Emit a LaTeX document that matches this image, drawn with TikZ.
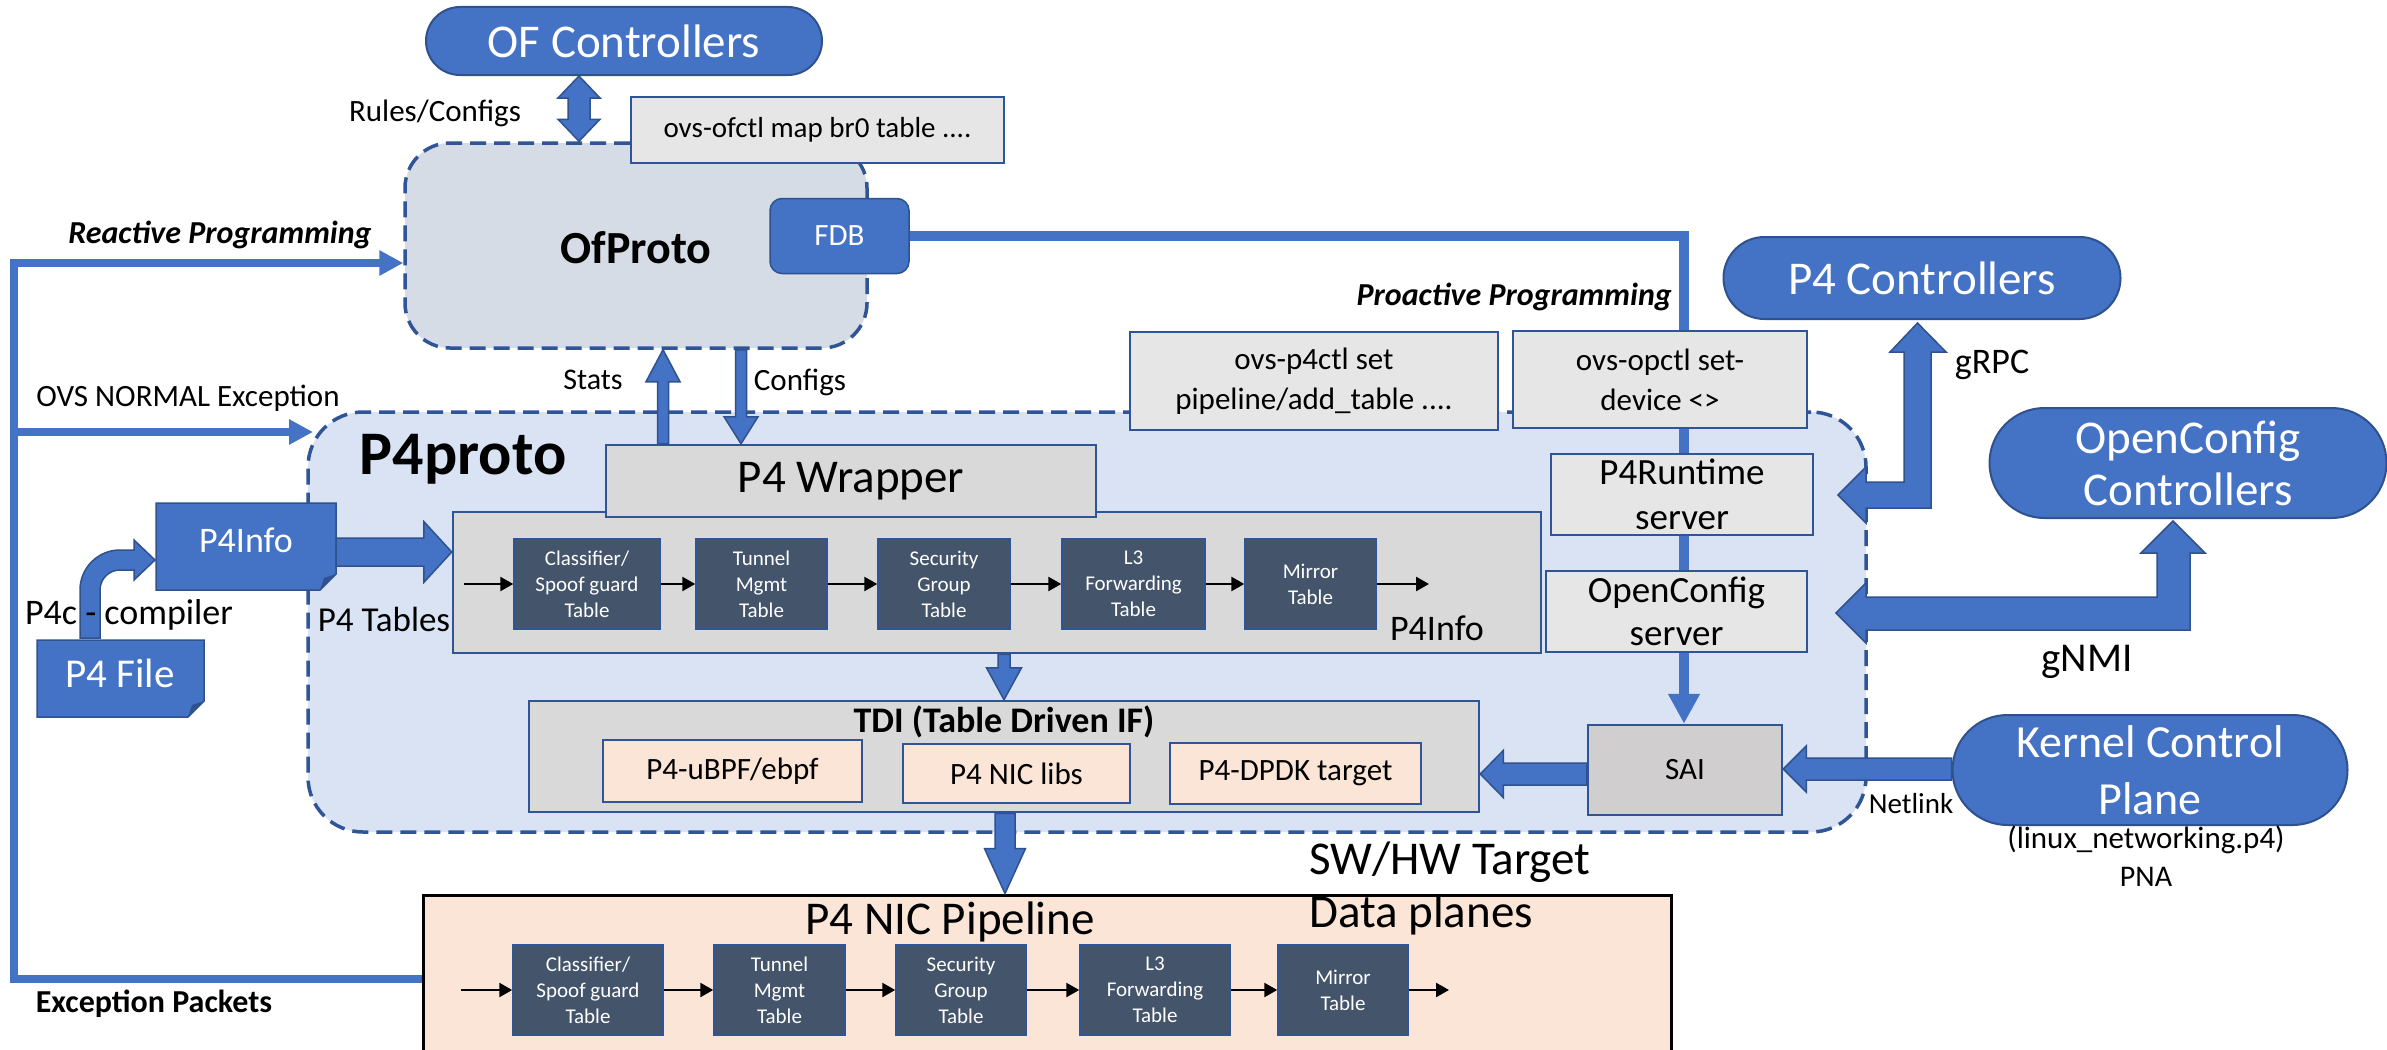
\documentclass[tikz,border=0pt]{standalone}
\usepackage{fontspec}
\setmainfont{Carlito}
\usetikzlibrary{arrows.meta,calc}
\definecolor{cBlue}{HTML}{4472C4}
\definecolor{cBorder}{HTML}{2F528F}
\definecolor{cEdge}{HTML}{2F5597}
\definecolor{cLightBlue}{HTML}{DAE3F3}
\definecolor{cOfp}{HTML}{D6DCE5}
\definecolor{cGray}{HTML}{D9D9D9}
\definecolor{cCmd}{HTML}{E7E6E6}
\definecolor{cSai}{HTML}{D0CECE}
\definecolor{cPeach}{HTML}{FBE5D6}
\definecolor{cDark}{HTML}{44546A}
\newcommand\fsz[2]{\fontsize{#1}{#2}\selectfont}
% block arrow: [opts]{from}{to}{shaft half}{head half}{head length}
\newcommand\barrow[6][]{%
  \path (#2) coordinate (baA) (#3) coordinate (baB);
  \pgfpointdiff{\pgfpointanchor{baA}{center}}{\pgfpointanchor{baB}{center}}%
  \pgfgetlastxy{\badx}{\bady}%
  \pgfmathsetmacro\baAng{atan2(\bady,\badx)}%
  \pgfmathsetmacro\baLen{veclen(\badx,\bady)}%
  \filldraw[blk,#1,shift={(baA)},rotate=\baAng] (0,-#4) -- ({\baLen-#6},-#4) -- ({\baLen-#6},-#5) -- (\baLen,0) -- ({\baLen-#6},#5) -- ({\baLen-#6},#4) -- (0,#4) -- cycle;
}
\newcommand\bdarrow[6][]{%
  \path (#2) coordinate (baA) (#3) coordinate (baB);
  \pgfpointdiff{\pgfpointanchor{baA}{center}}{\pgfpointanchor{baB}{center}}%
  \pgfgetlastxy{\badx}{\bady}%
  \pgfmathsetmacro\baAng{atan2(\bady,\badx)}%
  \pgfmathsetmacro\baLen{veclen(\badx,\bady)}%
  \filldraw[blk,#1,shift={(baA)},rotate=\baAng] (0,0) -- (#6,-#5) -- (#6,-#4) -- ({\baLen-#6},-#4) -- ({\baLen-#6},-#5) -- (\baLen,0) -- ({\baLen-#6},#5) -- ({\baLen-#6},#4) -- (#6,#4) -- (#6,#5) -- cycle;
}
\begin{document}
\begin{tikzpicture}[x=1pt,y=-1pt,
  blk/.style={fill=cBlue,draw=cBorder,line width=1.5pt,line join=miter},
  stadium/.style={draw=cBorder,line width=2pt,fill=cBlue,text=white,rounded corners=#1,inner sep=0pt,align=center},
  gbox/.style={draw=cEdge,line width=2.5pt,fill=cGray,inner sep=0pt,align=center},
  cmdbox/.style={draw=cEdge,line width=2.5pt,fill=cCmd,inner sep=0pt,align=center},
  tbl/.style={draw=cEdge,line width=1.5pt,fill=cDark,text=white,inner sep=0pt,align=center,font=\fsz{21}{26},minimum height=90pt},
  peach/.style={draw=cEdge,line width=2.5pt,fill=cPeach,inner sep=0pt,font=\fsz{31}{37}},
  dashbox/.style={draw=cEdge,line width=3.5pt,dash pattern=on 16pt off 8pt,inner sep=0pt},
  bl/.style={draw=cBlue,line width=#1},
  btip/.style={-{Triangle[length=#1,width=#1]}},
  tarrow/.style={draw=black,line width=2.5pt,-{Triangle[length=13pt,width=14pt]}},
  lbl/.style={inner sep=0pt,font=\fsz{#1}{#1}},
]
\useasboundingbox (0,0) rectangle (2387,1049);
\fill[white] (0,0) rectangle (2387,1049);
\clip (0,0) rectangle (2387,1049);

% ---- OfProto
\node[dashbox, fill=cOfp, rounded corners=45pt, minimum width=462pt, minimum height=205pt] (ofproto) at (636,245.5) {};
\node[stadium=34pt, minimum width=396pt, minimum height=68pt, font=\fsz{47}{56}] (ofc) at (624,41) {OF Controllers};
\node[cmdbox, minimum width=373pt, minimum height=66pt, font=\fsz{29}{35}] (ovsof) at (817.5,130) {ovs-ofctl map br0 table ....};

% ---- P4proto
\node[dashbox, fill=cLightBlue, rounded corners=55pt, minimum width=1558pt, minimum height=420pt] (p4proto) at (1087,622) {};

% ---- command boxes / servers
\coordinate (vx) at (1684,0);
\node[cmdbox, minimum width=368pt, minimum height=98pt, font=\fsz{31}{40}] (ovsp4) at (1314,381) {ovs-p4ctl set\\pipeline/add\_table ....};
\node[cmdbox, minimum width=294pt, minimum height=97pt, font=\fsz{31}{40}] (ovsop) at (1660,379.5) {ovs-opctl set-\\device <>};
\node[cmdbox, minimum width=262pt, minimum height=81pt, font=\fsz{37}{45}] (p4rt) at (1682,494.5) {P4Runtime\\server};
\node[cmdbox, minimum width=261pt, minimum height=81pt, font=\fsz{37}{43}] (ocs) at (1676.5,611.5) {OpenConfig\\server};
\node[cmdbox, fill=cSai, minimum width=194pt, minimum height=90pt, font=\fsz{31}{37}] (sai) at (1685,770) {SAI};

% FDB line and server chain
\node[blk, rounded corners=12pt, text=white, minimum width=139pt, minimum height=75pt, inner sep=0pt, font=\fsz{31}{37}] (fdb) at (839.5,236) {FDB};
\draw[bl=10pt] (fdb.east) -| (ovsop.north -| vx);
\draw[bl=10pt] (ovsop.south -| vx) -- (p4rt.north -| vx);
\draw[bl=10pt] (p4rt.south -| vx) -- (ocs.north -| vx);
\draw[bl=10pt, btip=30pt] (ocs.south -| vx) -- (sai.north -| vx);

% ---- pipeline in P4proto
\node[gbox, minimum width=1088pt, minimum height=141pt] (pipe) at (997,582.5) {};
\node[gbox, minimum width=490pt, minimum height=72pt, font=\fsz{47}{56}] (p4wrap) at (851,481) {P4 Wrapper};
\node[tbl, minimum width=146pt] (t1) at (587,584) {Classifier/\\Spoof guard\\Table};
\node[tbl, minimum width=131pt] (t2) at (761.5,584) {Tunnel\\Mgmt\\Table};
\node[tbl, minimum width=132pt] (t3) at (944,584) {Security\\Group\\Table};
\node[tbl, minimum width=143pt] (t4) at (1133.5,584) {L3\\Forwarding\\Table};
\node[tbl, minimum width=131pt] (t5) at (1310.5,584) {Mirror\\Table};
\coordinate (pin) at (464,584);
\coordinate (pout) at (1429,584);
\draw[tarrow] (pin) -- (t1.west);
\draw[tarrow] (t1.east) -- (t2.west);
\draw[tarrow] (t2.east) -- (t3.west);
\draw[tarrow] (t3.east) -- (t4.west);
\draw[tarrow] (t4.east) -- (t5.west);
\draw[tarrow] (t5.east) -- (pout);
\node[lbl=36] at (1437,628) {P4Info};

% ---- TDI
\node[gbox, minimum width=950pt, minimum height=111pt] (tdi) at (1004,756.5) {};
\node[inner sep=0pt, font=\fsz{36}{36}\bfseries] at (1004,722) {TDI (Table Driven IF)};
\node[peach, minimum width=259pt, minimum height=62pt] (ubpf) at (732.5,771) {P4-uBPF/ebpf};
\node[peach, minimum width=227pt, minimum height=59pt] (niclibs) at (1016.5,773.5) {P4 NIC libs};
\node[peach, minimum width=251pt, minimum height=61pt] (dpdk) at (1295.5,773.5) {P4-DPDK target};

% ---- NIC pipeline
\node[draw=black, line width=3pt, fill=cPeach, minimum width=1248pt, minimum height=170pt, inner sep=0pt] (nic) at (1047,980) {};
\node[tbl, minimum width=150pt] (n1) at (588,990) {Classifier/\\Spoof guard\\Table};
\node[tbl, minimum width=131pt] (n2) at (779.5,990) {Tunnel\\Mgmt\\Table};
\node[tbl, minimum width=130pt] (n3) at (961,990) {Security\\Group\\Table};
\node[tbl, minimum width=150pt] (n4) at (1155,990) {L3\\Forwarding\\Table};
\node[tbl, minimum width=130pt] (n5) at (1343,990) {Mirror\\Table};
\coordinate (nin) at (461,990);
\coordinate (nout) at (1449,990);
\draw[tarrow] (nin) -- (n1.west);
\draw[tarrow] (n1.east) -- (n2.west);
\draw[tarrow] (n2.east) -- (n3.west);
\draw[tarrow] (n3.east) -- (n4.west);
\draw[tarrow] (n4.east) -- (n5.west);
\draw[tarrow] (n5.east) -- (nout);
\node[lbl=47] at (950,922) {P4 NIC Pipeline};

% ---- Controllers
\node[stadium=41pt, minimum width=397pt, minimum height=82pt, font=\fsz{47}{56}] (p4c) at (1922,278) {P4 Controllers};
\node[stadium=55pt, minimum width=397pt, minimum height=110pt, font=\fsz{47}{52}] (occ) at (2188,463) {OpenConfig\\Controllers};
\node[stadium=55pt, minimum width=395pt, minimum height=110pt, font=\fsz{46}{57}] (kcp) at (2150,770) {Kernel Control\\Plane};

% ---- block arrows
\bdarrow{579,0 |- ofc.south}{579,0 |- ofproto.north}{11}{21}{22}
\barrow{663,0 |- p4wrap.north}{663,0 |- ofproto.south}{5.5}{17}{32}
\barrow{741,0 |- ofproto.south}{741,0 |- p4wrap.north}{5.5}{17}{27}
\barrow{tdi.north |- pipe.south}{tdi.north}{6}{17.5}{32}
\barrow{1005,0 |- tdi.south}{1005,0 |- nic.north}{10}{20.5}{45}
\barrow{sai.west |- 0,774}{tdi.east |- 0,774}{11}{23.5}{23}
\barrow{kcp.west |- 0,769}{sai.east |- 0,769}{11}{23}{23}

% gRPC bent double arrow
\filldraw[blk] (1838,495) -- (1866,467) -- (1866,482) -- (1904,482) -- (1904,352) -- (1890,352) -- (1917.5,323) -- (1946,352) -- (1931,352) -- (1931,508) -- (1866,508) -- (1866,523) -- cycle;
% gNMI bent double arrow
\filldraw[blk] (1836,613) -- (1866,583) -- (1866,597) -- (2157,597) -- (2157,553) -- (2141,553) -- (2173,521) -- (2205,553) -- (2190,553) -- (2190,630) -- (1866,630) -- (1866,643) -- cycle;

% ---- P4Info / P4 File documents
\filldraw[blk] (156,503) -- (336,503) -- (336,574) -- (320,590) -- (156,590) -- cycle;
\fill[cBorder] (336,574) -- (320,590) -- (324,578) -- cycle;
\node[inner sep=0pt, minimum width=180pt, minimum height=87pt] (p4info) at (246,546.5) {};
\node[lbl=36, text=white] at (246,540) {P4Info};
\filldraw[blk] (37,640) -- (204,640) -- (204,701) -- (188,717) -- (37,717) -- cycle;
\fill[cBorder] (204,701) -- (188,717) -- (192,705) -- cycle;
\node[inner sep=0pt, minimum width=167pt, minimum height=77pt] (p4file) at (120.5,678.5) {};
\node[lbl=41, text=white] at (120,673) {P4 File};
\barrow{p4info.east |- 0,552}{pipe.west |- 0,552}{14}{30.5}{28}
% P4c compiler curved arrow
\filldraw[blk] (80,638) -- (80,590) arc[start angle=180,end angle=270,radius=40] -- (134,550) -- (134,540) -- (155,560) -- (134,580) -- (134,570) -- (120,570) arc[start angle=270,end angle=180,radius=20] -- (100,638) -- cycle;

% ---- left feedback lines
\coordinate (ovsA) at (14,432);
\coordinate (ovsB) at (313,432);
\draw[bl=8pt, btip=24pt] (nic.west |- 0,979) -- (14,979) -- (14,263) -- (ofproto.west |- 0,263);
\draw[bl=8pt, btip=24pt] (ovsA) -- (ovsB);

% ---- labels
\node[lbl=31] at (435,113) {Rules/Configs};
\node[inner sep=0pt, font=\fsz{46}{46}\bfseries] at (636,248) {OfProto};
\node[inner sep=0pt, font=\fsz{32}{32}\bfseries\itshape] at (220,235) {Reactive Programming};
\node[inner sep=0pt, font=\fsz{32}{32}\bfseries\itshape, anchor=east] at (1672,297) {Proactive Programming};
\node[lbl=31] at (188,398) {OVS NORMAL Exception};
\node[lbl=30] at (593,380) {Stats};
\node[lbl=31] at (800,382) {Configs};
\node[inner sep=0pt, font=\fsz{62}{62}\bfseries] at (463,459) {P4proto};
\node[lbl=36] at (129,615) {P4c - compiler};
\node[lbl=35] at (384,619) {P4 Tables};
\node[lbl=36] at (1992,365) {gRPC};
\node[lbl=41] at (2087,662) {gNMI};
\node[lbl=29] at (1911,804) {Netlink};
\node[lbl=31] at (2146,840) {(linux\_networking.p4)};
\node[lbl=30] at (2146,877) {PNA};
\node[lbl=47] at (1450,862) {SW/HW Target};
\node[lbl=47] at (1421,915) {Data planes};
\node[inner sep=0pt, font=\fsz{32}{32}\bfseries] at (154,1004) {Exception Packets};
\end{tikzpicture}
\end{document}
